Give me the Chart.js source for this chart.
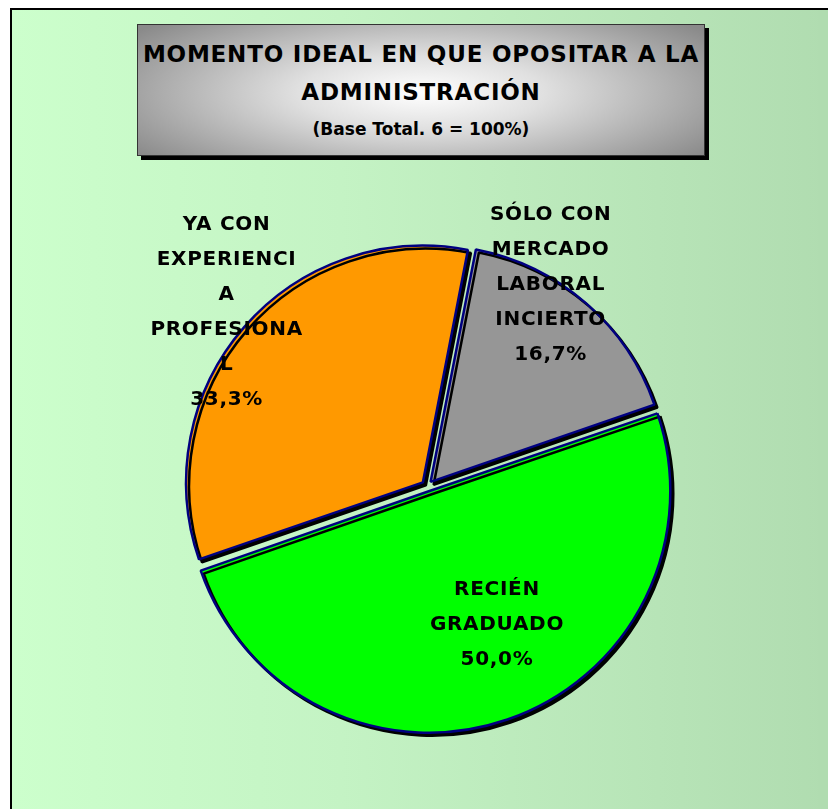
<!DOCTYPE html>
<html>
<head>
<meta charset="utf-8">
<script src="https://cdn.jsdelivr.net/npm/chart.js@4"></script>
<style>
  html, body { margin: 0; padding: 0; background: #b0dcb0; overflow: hidden; }
  #wrap { position: relative; width: 828px; height: 809px; overflow: hidden; background: #ffffff; }
  #frame { position: absolute; left: 12px; top: 10px; width: 900px; height: 900px;
    background: linear-gradient(to right, #ccffcc 0px, #c4f3c4 330px, #b0dcb0 816px, #b0dcb0 900px); }
  #bl { position: absolute; left: 10px; top: 8px; width: 2px; height: 900px; background: #000; }
  #bt { position: absolute; left: 10px; top: 8px; width: 900px; height: 2px; background: #000; }
  #edge { position: absolute; left: 818px; top: 10px; width: 20px; height: 900px; background: #b0dcb0; z-index: 5; }
  #titlebox { position: absolute; left: 137px; top: 24px; width: 566px; height: 130px;
    border: 1px solid #333;
    background: radial-gradient(ellipse 62% 80% at 50% 52%, #ffffff 0%, #e0e0e0 35%, #8a8a8a 100%);
    box-shadow: 4px 4px 0 #000;
    font-family: "DejaVu Sans", sans-serif; font-weight: bold; color: #000; text-align: center; }
  .t1 { position: absolute; left: 0; right: 0; font-size: 23px; line-height: 27px; letter-spacing: 0.8px; white-space: nowrap; }
  .t3 { position: absolute; left: 0; right: 0; font-size: 17px; line-height: 20px; white-space: nowrap; }
  #c { position: absolute; left: 0; top: 0; }
</style>
</head>
<body>
<div id="wrap">
  <div id="frame"></div>
  <div id="bl"></div>
  <div id="bt"></div>
  <div id="titlebox">
    <div class="t1" id="tl1" style="top:16px"></div>
    <div class="t1" id="tl2" style="top:54px"></div>
    <div class="t3" id="tl3" style="top:94px"></div>
  </div>
  <canvas id="c" width="828" height="809"></canvas>
  <div id="edge"></div>
</div>
<script>
// ---- data ----
const titleLines = ["MOMENTO IDEAL EN QUE OPOSITAR A LA", "ADMINISTRACIÓN", "(Base Total. 6 = 100%)"];
const categories = ["SÓLO CON MERCADO LABORAL INCIERTO", "RECIÉN GRADUADO", "YA CON EXPERIENCIA PROFESIONAL"];
const labelLines = [
  ["SÓLO CON", "MERCADO", "LABORAL", "INCIERTO"],
  ["RECIÉN", "GRADUADO"],
  ["YA CON", "EXPERIENCI", "A", "PROFESIONA", "L"]
];
const counts = [1, 3, 2];
const sliceColors = ["#969696", "#00ff00", "#ff9900"];

document.getElementById('tl1').textContent = titleLines[0];
document.getElementById('tl2').textContent = titleLines[1];
document.getElementById('tl3').textContent = titleLines[2];

const total = counts.reduce((a, b) => a + b, 0);
const pctText = v => (v / total * 100).toFixed(1).replace('.', ',') + '%';

// label placement relative to slice bisector: [angle shift (deg), radius factor]
const labelPlace = [[-9.4, 1.0], [-7.7, 0.66], [0, 1.125]];

const shadowPlugin = {
  id: 'shadow',
  beforeDatasetsDraw(chart) {
    const ctx = chart.ctx;
    ctx.save();
    ctx.shadowColor = '#000';
    ctx.shadowOffsetX = 3;
    ctx.shadowOffsetY = 3;
    ctx.shadowBlur = 0;
  },
  afterDatasetsDraw(chart) {
    chart.ctx.restore();
  }
};

const labelPlugin = {
  id: 'sliceLabels',
  afterDraw(chart) {
    const ctx = chart.ctx;
    const meta = chart.getDatasetMeta(0);
    ctx.save();
    ctx.font = 'bold 20px "DejaVu Sans", sans-serif';
    try { ctx.letterSpacing = '0.7px'; } catch (e) {}
    ctx.fillStyle = '#000';
    ctx.textAlign = 'center';
    ctx.textBaseline = 'middle';
    const lh = 35;
    meta.data.forEach((arc, i) => {
      const p = arc.getProps(['x', 'y', 'startAngle', 'endAngle', 'outerRadius'], true);
      const mid = (p.startAngle + p.endAngle) / 2 + labelPlace[i][0] * Math.PI / 180;
      const r = p.outerRadius * labelPlace[i][1];
      const cx = p.x + Math.cos(mid) * r;
      const cy = p.y + Math.sin(mid) * r;
      const lines = labelLines[i].concat([pctText(counts[i])]);
      const y0 = cy - (lines.length - 1) * lh / 2;
      lines.forEach((t, k) => ctx.fillText(t, cx, y0 + k * lh));
    });
    ctx.restore();
  }
};

new Chart(document.getElementById('c'), {
  type: 'pie',
  data: {
    labels: categories,
    datasets: [{
      data: counts,
      backgroundColor: sliceColors,
      borderColor: '#000080',
      borderWidth: 2.5,
      offset: 22,
      hoverOffset: 0,
      radius: 236
    }]
  },
  options: {
    responsive: false,
    animation: false,
    rotation: 11,
    layout: { padding: { left: 180, right: 154, top: 239, bottom: 76 } },
    plugins: { legend: { display: false }, tooltip: { enabled: false }, title: { display: false } }
  },
  plugins: [shadowPlugin, labelPlugin]
});
</script>
</body>
</html>
